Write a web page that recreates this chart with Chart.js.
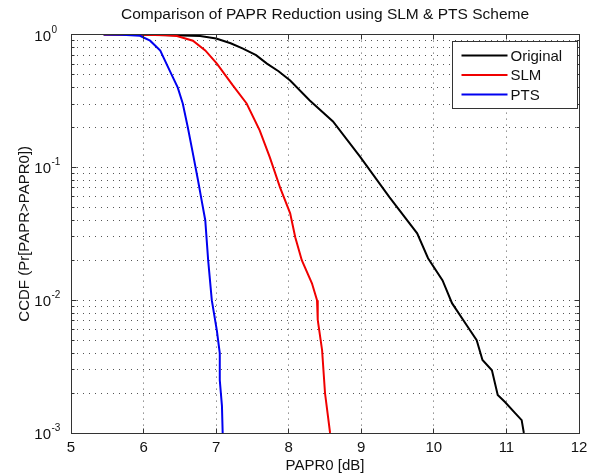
<!DOCTYPE html>
<html>
<head>
<meta charset="utf-8">
<title>Comparison of PAPR Reduction using SLM &amp; PTS Scheme</title>
<script src="https://cdn.jsdelivr.net/npm/chart.js@4.4.0/dist/chart.umd.min.js"></script>
<style>
  html, body { margin: 0; padding: 0; background: #fff; }
  canvas { display: block; }
</style>
</head>
<body>
<canvas id="paprChart" width="592" height="475"></canvas>
<script>
// CCDF curves: x = PAPR0 [dB], y = Pr[PAPR > PAPR0]
const origX = [5.45, 6.0, 6.4, 6.78, 7.0, 7.2, 7.37, 7.55, 7.70, 7.86, 8.02, 8.29, 8.61, 8.98, 9.39, 9.77, 9.92, 10.12, 10.25, 10.45, 10.59, 10.67, 10.80, 10.88, 10.98, 11.12, 11.21, 11.24];
const origY = [1, 0.998, 0.99, 0.975, 0.935, 0.86, 0.785, 0.70, 0.605, 0.53, 0.451, 0.319, 0.222, 0.121, 0.0595, 0.0319, 0.0207, 0.0141, 0.0095, 0.0065, 0.0050, 0.00355, 0.00297, 0.00193, 0.00171, 0.00141, 0.00125, 0.001];

const slmX = [5.45, 6.0, 6.3, 6.46, 6.68, 6.85, 7.01, 7.23, 7.42, 7.60, 7.74, 7.88, 8.02, 8.09, 8.18, 8.32, 8.39, 8.40, 8.46, 8.50, 8.57];
const slmY = [1, 0.998, 0.99, 0.975, 0.90, 0.76, 0.605, 0.414, 0.303, 0.190, 0.119, 0.0707, 0.0451, 0.0298, 0.020, 0.0134, 0.010, 0.0071, 0.0042, 0.0020, 0.001];

const ptsX = [5.45, 5.7, 5.95, 6.09, 6.23, 6.36, 6.47, 6.54, 6.61, 6.68, 6.75, 6.80, 6.85, 6.89, 6.94, 7.01, 7.05, 7.05, 7.08, 7.09];
const ptsY = [1, 0.998, 0.98, 0.90, 0.758, 0.536, 0.40, 0.303, 0.20, 0.127, 0.080, 0.0565, 0.040, 0.020, 0.010, 0.0059, 0.0040, 0.0025, 0.0016, 0.001];

const seriesLabels = ['Original', 'SLM', 'PTS'];
const xTicks = [5, 6, 7, 8, 9, 10, 11, 12];
const yDecades = [-3, -2, -1, 0];

const FONT = "'Liberation Sans', Arial, Helvetica, sans-serif";

function toPoints(xs, ys) {
    return xs.map((x, i) => ({ x: x, y: ys[i] }));
}

// MATLAB style log grid: 1..9 in every decade
const yTickValues = [];
yDecades.forEach(e => {
    const top = e === 0 ? 1 : 9;
    for (let m = 1; m <= top; m++) {
        yTickValues.push(Number((m * Math.pow(10, e)).toPrecision(3)));
    }
});

function align(p) {
    return Math.round(p - 0.5) + 0.5;
}

// frame, inward ticks, 10^n labels and the legend box
const matlabAxes = {
    id: 'matlabAxes',
    afterDatasetsDraw(chart) {
        const { ctx, chartArea: a, scales: { x, y } } = chart;
        const left = align(a.left), right = align(a.right);
        const top = align(a.top), bottom = align(a.bottom);
        ctx.save();
        ctx.strokeStyle = '#333';
        ctx.lineWidth = 1;
        ctx.beginPath();
        xTicks.forEach(v => {
            const px = align(x.getPixelForValue(v));
            ctx.moveTo(px, bottom); ctx.lineTo(px, bottom - 5);
            ctx.moveTo(px, top); ctx.lineTo(px, top + 5);
        });
        yTickValues.forEach(v => {
            const py = align(y.getPixelForValue(v));
            const len = Number.isInteger(Math.log10(v)) ? 5 : 3;
            ctx.moveTo(left, py); ctx.lineTo(left + len, py);
            ctx.moveTo(right, py); ctx.lineTo(right - len, py);
        });
        ctx.stroke();
        ctx.strokeRect(left, top, right - left, bottom - top);

        // y tick labels with superscript exponent
        ctx.fillStyle = '#111';
        yDecades.forEach(e => {
            const py = y.getPixelForValue(Math.pow(10, e));
            ctx.font = '15px ' + FONT;
            ctx.textAlign = 'right';
            ctx.textBaseline = 'alphabetic';
            ctx.fillText('10', 51, py + 6);
            ctx.font = '10px ' + FONT;
            ctx.textAlign = 'left';
            ctx.fillText(String(e), 51.5, py - 2);
        });

        // legend
        const boxW = 125, boxH = 67;
        const bx = Math.round(a.right) - 2 - boxW + 0.5;
        const by = Math.round(a.top) + 6 + 0.5;
        ctx.fillStyle = '#fff';
        ctx.fillRect(bx, by, boxW, boxH);
        ctx.strokeStyle = '#333';
        ctx.strokeRect(bx, by, boxW, boxH);
        ctx.font = '15px ' + FONT;
        ctx.textAlign = 'left';
        ctx.textBaseline = 'middle';
        seriesLabels.forEach((label, i) => {
            const ds = chart.data.datasets.find(d => d.label === label);
            const ry = by + 14 + i * 19.5;
            ctx.strokeStyle = ds.borderColor;
            ctx.lineWidth = 2;
            ctx.beginPath();
            ctx.moveTo(bx + 9, ry);
            ctx.lineTo(bx + 55, ry);
            ctx.stroke();
            ctx.fillStyle = '#111';
            ctx.fillText(label, bx + 58, ry + 1);
        });
        ctx.restore();
    }
};

new Chart(document.getElementById('paprChart').getContext('2d'), {
    type: 'line',
    data: {
        datasets: [
            { label: 'Original', data: toPoints(origX, origY), borderColor: '#000000', order: 3 },
            { label: 'SLM', data: toPoints(slmX, slmY), borderColor: '#f00000', order: 2 },
            { label: 'PTS', data: toPoints(ptsX, ptsY), borderColor: '#0000f0', order: 1 }
        ]
    },
    options: {
        responsive: false,
        animation: false,
        devicePixelRatio: 1,
        layout: { padding: { left: 0, right: 13, top: 0, bottom: 0 } },
        elements: {
            line: { borderWidth: 2, tension: 0, fill: false },
            point: { radius: 0, hoverRadius: 0 }
        },
        plugins: {
            legend: { display: false },
            tooltip: { enabled: false },
            title: {
                display: true,
                fullSize: false,
                text: 'Comparison of PAPR Reduction using SLM & PTS Scheme',
                color: '#111',
                font: { family: FONT, size: 15.5, weight: 'normal' },
                padding: { top: 5, bottom: 11 }
            }
        },
        scales: {
            x: {
                type: 'linear',
                min: 5,
                max: 12,
                afterBuildTicks: scale => { scale.ticks = xTicks.map(v => ({ value: v })); },
                afterFit: scale => {
                    scale.height = 42;
                    scale.paddingLeft = 0;
                    scale.paddingRight = 0;
                },
                ticks: {
                    color: '#111',
                    font: { family: FONT, size: 15 },
                    padding: 6,
                    maxRotation: 0
                },
                grid: { color: '#555', lineWidth: 1, drawTicks: false, borderDash: [1, 5] },
                border: { display: false, dash: [1, 5] },
                title: {
                    display: true,
                    text: 'PAPR0 [dB]',
                    color: '#111',
                    font: { family: FONT, size: 15 },
                    padding: { top: 0, bottom: 0 }
                }
            },
            y: {
                type: 'logarithmic',
                min: 0.001,
                max: 1,
                afterBuildTicks: scale => { scale.ticks = yTickValues.map(v => ({ value: v })); },
                afterFit: scale => { scale.width = 71; },
                ticks: { display: false },
                grid: { color: '#555', lineWidth: 1, drawTicks: false, borderDash: [1, 5] },
                border: { display: false, dash: [1, 5] },
                title: {
                    display: true,
                    text: 'CCDF (Pr[PAPR>PAPR0])',
                    color: '#111',
                    font: { family: FONT, size: 15 },
                    padding: { top: 16, bottom: 0 }
                }
            }
        }
    },
    plugins: [matlabAxes]
});
</script>
</body>
</html>
